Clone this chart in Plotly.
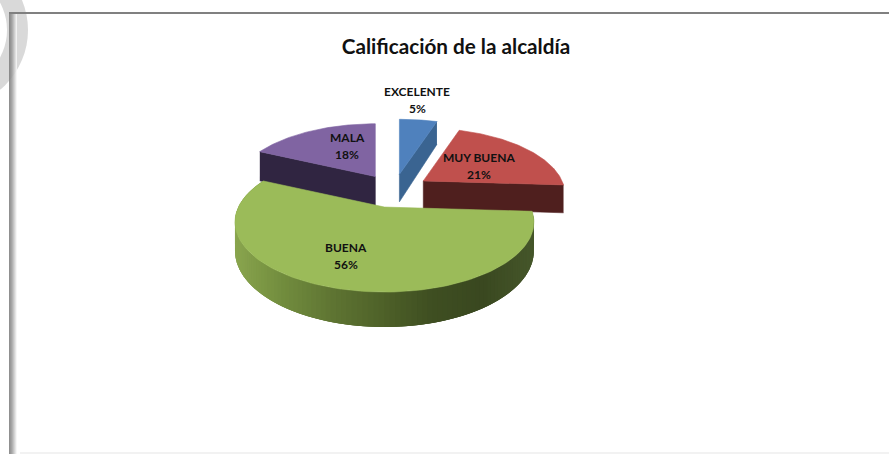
import numpy as np
import plotly.graph_objects as go

# chart data
categories = ["EXCELENTE", "MUY BUENA", "BUENA", "MALA"]
percent = [5, 21, 56, 18]
chart_title = "Calificación de la alcaldía"

# colours of each slice: top surface and cut face
top_colors = ["#4F81BD", "#C0504D", "#9BBB59", "#8064A2"]
face_colors = ["#3A6491", "#4F1F1E", "#3F4D22", "#302541"]
rim_stops = ["#8AA64F", "#728D3E", "#5F7533", "#4F6229", "#3F4F22", "#3A4820", "#46572B"]

# fake 3D projection settings (screen pixels)
WIDTH, HEIGHT = 889, 454
CENTER = (394, 190)
RX, RY = 146, 66.8
PERSPECTIVE = 0.214
DEPTH = 27.5
PULL = 0.25
radius_scale = [1.0, 0.95, 1.0, 0.95]
# MALA's face runs under BUENA, so it is drawn a little deeper
face_extra = [0, 0, 0, 4]

# centre of the first label line, one per slice
label_pos = [(417, 91), (479, 157), (346, 247), (347, 137)]
LABEL_STEP = 17.5


def project(r, theta):
    # theta runs clockwise from the back of the pie
    u, v = r * np.sin(theta), -r * np.cos(theta)
    w = 1 - PERSPECTIVE * v
    return RX * u / w, RY * v / w


def drop(theta):
    return DEPTH / (1 + PERSPECTIVE * np.cos(theta))


def hex_mix(stops, t):
    rgb = np.array([[int(c[i:i + 2], 16) for i in (1, 3, 5)] for c in stops], dtype=float)
    pos = np.linspace(0, 1, len(stops))
    vals = [np.interp(t, pos, rgb[:, k]) for k in range(3)]
    return "rgb(%d,%d,%d)" % tuple(vals)


def polygon(fig, xs, ys, color):
    fig.add_trace(
        go.Scatter(
            x=list(xs),
            y=list(ys),
            mode="lines",
            fill="toself",
            fillcolor=color,
            line=dict(color=color, width=0.6),
            hoverinfo="skip",
            showlegend=False,
        )
    )


fractions = np.array(percent) / sum(percent)
ends = np.cumsum(fractions) * 2 * np.pi
starts = ends - fractions * 2 * np.pi

slices = []
for i in range(len(percent)):
    mid = (starts[i] + ends[i]) / 2
    dx, dy = project(PULL, mid)
    slices.append((CENTER[0] + dx, CENTER[1] + dy))

fig = go.Figure()

# back to front: MALA, EXCELENTE, MUY BUENA, BUENA
for i in [3, 0, 1, 2]:
    ax, ay = slices[i]
    scale = radius_scale[i]
    angles = np.linspace(starts[i], ends[i], 120)
    px_, py_ = project(scale, angles)
    rim_x, rim_y = ax + px_, ay + py_

    if categories[i] == "BUENA":
        # outer wall with a horizontal shading, strips overlap the next one to hide seams
        lo, hi = rim_x.min(), rim_x.max()
        for j in range(len(angles) - 1):
            k = min(j + 3, len(angles) - 1)
            top_x, top_y = rim_x[j:k + 1], rim_y[j:k + 1]
            bot_y = top_y + drop(angles[j:k + 1])
            xs = np.r_[top_x, top_x[::-1]]
            ys = np.r_[top_y, bot_y[::-1]]
            fig.add_trace(
                go.Scatter(
                    x=list(xs),
                    y=list(ys),
                    mode="lines",
                    fill="toself",
                    fillcolor=hex_mix(rim_stops, (rim_x[j] - lo) / (hi - lo)),
                    line=dict(width=0),
                    hoverinfo="skip",
                    showlegend=False,
                )
            )
    else:
        # cut face on the side towards the viewer
        edge = ends[i] if categories[i] != "MALA" else starts[i]
        ex, ey = project(scale, edge)
        extra = face_extra[i]
        xs = [ax + ex, ax, ax, ax + ex]
        ys = [ay + ey, ay, ay + DEPTH + extra, ay + ey + drop(edge) + extra]
        polygon(fig, xs, ys, face_colors[i])

    polygon(fig, np.r_[ax, rim_x, ax], np.r_[ay, rim_y, ay], top_colors[i])

for name, pct, (lx, ly) in zip(categories, percent, label_pos):
    for line, text in enumerate([name, "%d%%" % pct]):
        fig.add_annotation(
            x=lx,
            y=ly + line * LABEL_STEP,
            text="<b>%s</b>" % text,
            showarrow=False,
            font=dict(family="Lato", size=12, color="#111111"),
        )

# page decoration: grey ring in the corner, frame lines
shapes = [
    dict(type="circle", x0=-128, x1=28, y0=-48, y1=108, fillcolor="#D9D9D9", line_width=0, layer="below"),
    dict(type="circle", x0=-107, x1=7, y0=-27, y1=87, fillcolor="white", line_width=0, layer="below"),
    dict(type="rect", x0=9, x1=889, y0=12, y1=14, fillcolor="#808080", line_width=0, layer="below"),
    dict(type="rect", x0=20, x1=889, y0=452, y1=454, fillcolor="#F2F2F2", line_width=0, layer="below"),
]
bar_greys = [125, 135, 148, 165, 185, 205, 225, 244]
for k, g in enumerate(bar_greys):
    shapes.append(
        dict(type="rect", x0=9 + k, x1=10 + k, y0=14, y1=454,
             fillcolor="rgba(%d,%d,%d,0.85)" % (g, g, g), line_width=0, layer="below")
    )

fig.update_layout(
    width=WIDTH,
    height=HEIGHT,
    margin=dict(l=0, r=0, t=0, b=0),
    paper_bgcolor="white",
    plot_bgcolor="white",
    shapes=shapes,
    title=dict(
        text="<b>%s</b>" % chart_title,
        x=456 / WIDTH,
        y=1 - 47 / HEIGHT,
        xanchor="center",
        yanchor="middle",
        font=dict(family="Lato", size=20.7, color="#111111"),
    ),
    xaxis=dict(range=[0, WIDTH], visible=False, fixedrange=True),
    yaxis=dict(range=[HEIGHT, 0], visible=False, fixedrange=True),
    showlegend=False,
)

fig.write_html(
    "out.html",
    config=dict(displayModeBar=False),
    post_script="document.body.style.margin='0';document.body.style.overflow='hidden';",
)
